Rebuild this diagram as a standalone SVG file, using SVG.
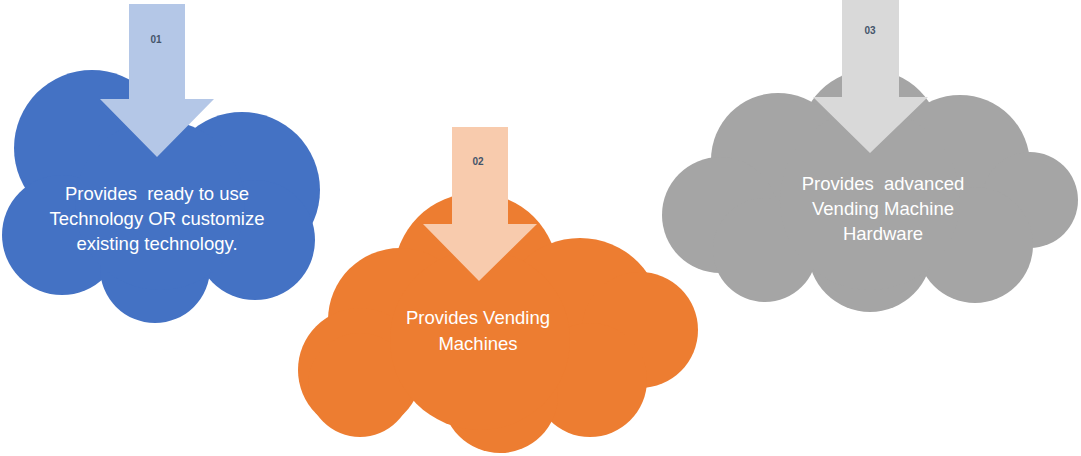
<svg xmlns="http://www.w3.org/2000/svg" width="1081" height="456" viewBox="0 0 1081 456">
<style>
.txt{font-family:"Liberation Sans",Arial,sans-serif;font-size:18.5px;fill:#ffffff;text-anchor:middle}
.num{font-family:"Liberation Sans",Arial,sans-serif;font-size:10px;font-weight:bold;fill:#44546a;text-anchor:middle}
</style>
<rect width="1081" height="456" fill="#ffffff"/>
<g id="cloud1" fill="#4472c4">
<circle cx="92" cy="148" r="78"/>
<circle cx="242" cy="190" r="78"/>
<circle cx="255" cy="240" r="60"/>
<circle cx="62" cy="235" r="60"/>
<circle cx="155" cy="268" r="55"/>
<circle cx="160" cy="205" r="85"/>
</g>
<g id="cloud2" fill="#ed7d31">
<circle cx="476" cy="275" r="82"/>
<circle cx="400" cy="320" r="72"/>
<circle cx="360" cy="370" r="62"/>
<circle cx="580" cy="320" r="82"/>
<circle cx="640" cy="330" r="58"/>
<circle cx="590" cy="380" r="57"/>
<circle cx="500" cy="395" r="58"/>
<circle cx="360" cy="385" r="52"/>
<circle cx="480" cy="340" r="90"/>
</g>
<g id="cloud3" fill="#a5a5a5">
<circle cx="870" cy="140" r="70"/>
<circle cx="778" cy="160" r="67"/>
<circle cx="720" cy="215" r="58"/>
<circle cx="960" cy="165" r="70"/>
<circle cx="1030" cy="200" r="48"/>
<circle cx="975" cy="245" r="58"/>
<circle cx="870" cy="250" r="62"/>
<circle cx="765" cy="250" r="52"/>
<circle cx="870" cy="200" r="90"/>
</g>
<g id="connectors">
<polygon id="arrow1" fill="#b4c7e7" points="129,4 185,4 185,99 214,99 157,157 100,99 129,99"/>
<polygon id="arrow2" fill="#f8cbad" points="452,127 508,127 508,224 537,224 479,281 423,224 452,224"/>
<polygon id="arrow3" fill="#d9d9d9" points="842,0 899,0 899,97 928,97 870,153 813,97 842,97"/>
</g>
<g id="labels">
<text class="num" x="156" y="43">01</text>
<text class="num" x="478" y="165">02</text>
<text class="num" x="870" y="34">03</text>
<text class="txt" x="157" y="200" xml:space="preserve">Provides  ready to use</text>
<text class="txt" x="157" y="225">Technology OR customize</text>
<text class="txt" x="157" y="250">existing technology.</text>
<text class="txt" x="478" y="324">Provides Vending</text>
<text class="txt" x="478" y="350">Machines</text>
<text class="txt" x="883" y="190" xml:space="preserve">Provides  advanced</text>
<text class="txt" x="883" y="215">Vending Machine</text>
<text class="txt" x="883" y="240">Hardware</text>
</g>
</svg>
